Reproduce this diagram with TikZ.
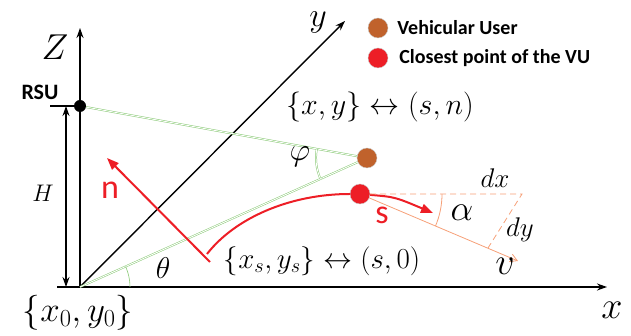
\RequirePackage{fix-cm}
\documentclass[tikz,border=0pt]{standalone}
\usepackage{fontspec}
\newfontfamily\calibri{Carlito}
\usetikzlibrary{arrows.meta,positioning}
\definecolor{vured}{RGB}{237,30,38}
\definecolor{vubrown}{RGB}{192,98,44}
\definecolor{linegreen}{RGB}{135,200,115}
\definecolor{vorange}{RGB}{246,160,120}
\newcommand{\fsz}[1]{\fontsize{#1}{#1}\selectfont}

\begin{document}
\begin{tikzpicture}[x=1pt,y=1pt,
  axis/.style={line width=1.4pt,-{Stealth[length=10pt,width=7pt]}},
  gline/.style={draw=linegreen,double=white,double distance=0.9pt,line width=0.5pt},
  redline/.style={vured,line width=2pt},
  oline/.style={vorange,line width=0.8pt},
  dot/.style={circle,inner sep=0pt,minimum size=20pt,draw=gray!40,line width=0.4pt},
  lbl/.style={inner sep=0pt}]
\useasboundingbox (0,0) rectangle (631,336);
% axes
\coordinate (o) at (80,49);
\coordinate (xstart) at (57,49);
\coordinate (xend) at (607,49);
\coordinate (zend) at (80,308);
\coordinate (yend) at (345,315);
\draw[axis] (xstart) -- (xend);
\draw[axis] (o) -- (zend);
\draw[axis] (o) -- (yend);
\node[lbl,font=\fsz{36}] (zlab) at (55,289) {$Z$};
\node[lbl,font=\fsz{34}] (ylab) at (318,314) {$y$};
\node[lbl,font=\fsz{38}] (xlab) at (612,26) {$x$};
\node[lbl,font=\fsz{35}] (olab) at (78,23) {$\{x_0,y_0\}$};

% RSU and height
\node[circle,fill=black,minimum size=12pt,inner sep=0pt] (rsu) at (80,230) {};
\coordinate (rsutick) at (50,230);
\draw[line width=1.2pt] (rsutick) -- (rsu.center);
\node[lbl,font=\calibri\bfseries\fsz{22}] (rsulab) at (40,244) {RSU};
\coordinate (hbot) at (66,49);
\coordinate (htop) at (66,230);
\draw[line width=1.2pt,{Stealth[length=10pt,width=7pt]}-{Stealth[length=10pt,width=7pt]}] (hbot) -- (htop);
\node[lbl,font=\fsz{24}] (hlab) at (43,143) {$H$};

% users
\node[dot,fill=vubrown] (vu) at (367,178) {};
\node[dot,fill=vured] (cp) at (360,142) {};
\draw[gline] (rsu) -- (vu);
\draw[gline] (o) -- (vu);
\draw[gline] ([shift={(169.7:51)}]vu.center) arc[start angle=169.7,end angle=204.2,radius=51];
\draw[linegreen,line width=0.6pt] ([shift={(0:50)}]o) arc[start angle=0,end angle=24.2,radius=50];
\node[lbl,font=\fsz{32}] (phlab) at (300,179) {$\varphi$};
\node[lbl,font=\fsz{30}] (thlab) at (163,68) {$\theta$};

% road frame s, n
\coordinate (sstart) at (207,82);
\coordinate (stip) at (433,123);
\coordinate (ncorner) at (210,74);
\coordinate (ntip) at (107,178);
\draw[redline] (sstart) .. controls (235,118) and (290,142) .. (cp);
\draw[redline,-{Triangle[length=12pt,width=9pt]}] (cp) .. controls (395,139) .. (stip);
\draw[redline,-{Triangle[length=12pt,width=9pt]}] (ncorner) -- (ntip);
\node[lbl,font=\calibri\fsz{34},text=vured] (nlab) at (110,146) {n};
\node[lbl,font=\calibri\fsz{34},text=vured] (slab) at (382,121) {s};

% velocity
\coordinate (dxend) at (522,142);
\coordinate (vtip) at (518,75);
\coordinate (dyend) at (488,88);
\draw[oline,dash pattern=on 6pt off 4pt] (cp) -- (dxend) -- (dyend);
\draw[oline,-{Straight Barb[length=7pt,width=8pt]}] (cp) -- (vtip);
\draw[oline] ([shift={(0:82)}]cp.center) arc[start angle=0,end angle=-23,radius=82];
\node[lbl,font=\fsz{27}] (dxlab) at (495,158) {$dx$};
\node[lbl,font=\fsz{27}] (dylab) at (520,106) {$dy$};
\node[lbl,font=\fsz{36}] (alab) at (462,123) {$\alpha$};
\node[lbl,font=\fsz{38}] (vlab) at (505,70) {$v$};

% mappings
\node[lbl,font=\fsz{30}] (maplab) at (380,229) {$\{x,y\}\leftrightarrow(s,n)$};
\node[lbl,font=\fsz{29}] (smaplab) at (322,75) {$\{x_s,y_s\}\leftrightarrow(s,0)$};

% legend
\node[dot,fill=vubrown] (legvu) at (378,308) {};
\node[dot,fill=vured] (legcp) at (378,278) {};
\node[lbl,font=\calibri\bfseries\fsz{20},right=9pt of legvu] (legvutxt) {Vehicular User};
\node[lbl,font=\calibri\bfseries\fsz{20},right=11pt of legcp] (legcptxt) {Closest point of the VU};
\end{tikzpicture}
\end{document}
